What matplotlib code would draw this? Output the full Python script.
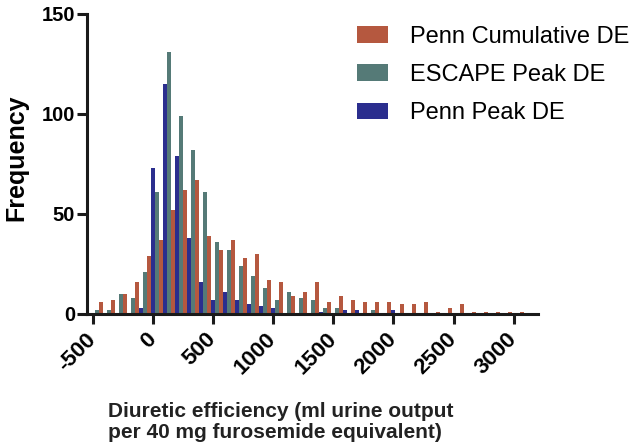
import numpy as np
import matplotlib
matplotlib.use("Agg")
import matplotlib.pyplot as plt

plt.rcParams['font.family'] = ['Liberation Sans', 'DejaVu Sans']
plt.rcParams['axes.unicode_minus'] = False

# bin left edges (bin width 100)
bin_starts = np.arange(-500, 3100, 100)

penn_peak = [0, 0, 0, 0, 3, 73, 115, 79, 38, 16, 7, 11, 7, 5, 4, 3,
             0, 0, 0, 1, 0, 2, 2, 0, 0, 2, 0, 0, 0, 0, 0, 0, 0, 0, 0, 0]
escape_peak = [2, 2, 10, 8, 21, 61, 131, 99, 82, 61, 36, 32, 24, 19, 13, 7,
               11, 8, 7, 3, 3, 0, 0, 2, 0, 0, 0, 0, 0, 0, 0, 0, 0, 0, 0, 0]
penn_cum = [6, 7, 10, 16, 29, 37, 52, 62, 67, 39, 32, 37, 28, 30, 17, 16,
            9, 11, 16, 6, 9, 7, 6, 6, 6, 5, 5, 6, 1, 3, 5, 1, 1, 1, 1, 1]

series = [("Penn Cumulative DE", penn_cum, "#B5583F", 2),
          ("ESCAPE Peak DE", escape_peak, "#557A77", 1),
          ("Penn Peak DE", penn_peak, "#2B2E8E", 0)]

fig = plt.figure(figsize=(6.38, 4.46), dpi=100)
ax = fig.add_axes([0.136, 0.296, 0.707, 0.673])

w = 100 / 3
for label, vals, col, slot in series:
    ax.bar(bin_starts + slot * w, vals, width=w, color=col, label=label,
           linewidth=0, zorder=2)

ax.set_xlim(-550, 3200)
ax.set_ylim(0, 150)
ax.set_xticks(np.arange(-500, 3001, 500))
ax.set_yticks([0, 50, 100, 150])

for s in ['top', 'right']:
    ax.spines[s].set_visible(False)
for s in ['left', 'bottom']:
    ax.spines[s].set_linewidth(2.2)
    ax.spines[s].set_color('#1a1a1a')
    ax.spines[s].set_zorder(3)

ax.tick_params(axis='both', direction='out', length=7, width=2.2, color='#1a1a1a')
ax.tick_params(axis='y', labelsize=14.5, pad=1.5)
ax.tick_params(axis='x', labelsize=16, pad=9)
for t in ax.get_yticklabels():
    t.set_fontweight('bold')
for t in ax.get_xticklabels():
    t.set_fontweight('bold')
    t.set_rotation(45)
    t.set_ha('right')
    t.set_va('center')
    t.set_rotation_mode('anchor')

ax.set_ylabel("Frequency", fontsize=18, fontweight='bold')
ax.yaxis.set_label_coords(-0.13, 0.52)
fig.text(0.169, 0.054, "Diuretic efficiency (ml urine output\nper 40 mg furosemide equivalent)",
         fontsize=15, fontweight='bold', ha='left', va='center', linespacing=1.18,
         color='#222222')

ax.legend(loc='upper left', bbox_to_anchor=(0.527, 0.99), bbox_transform=fig.transFigure,
          frameon=False, fontsize=17, handlelength=1.3, handleheight=0.72,
          labelspacing=0.69, handletextpad=0.93)

fig.savefig("out.png", dpi=100)
